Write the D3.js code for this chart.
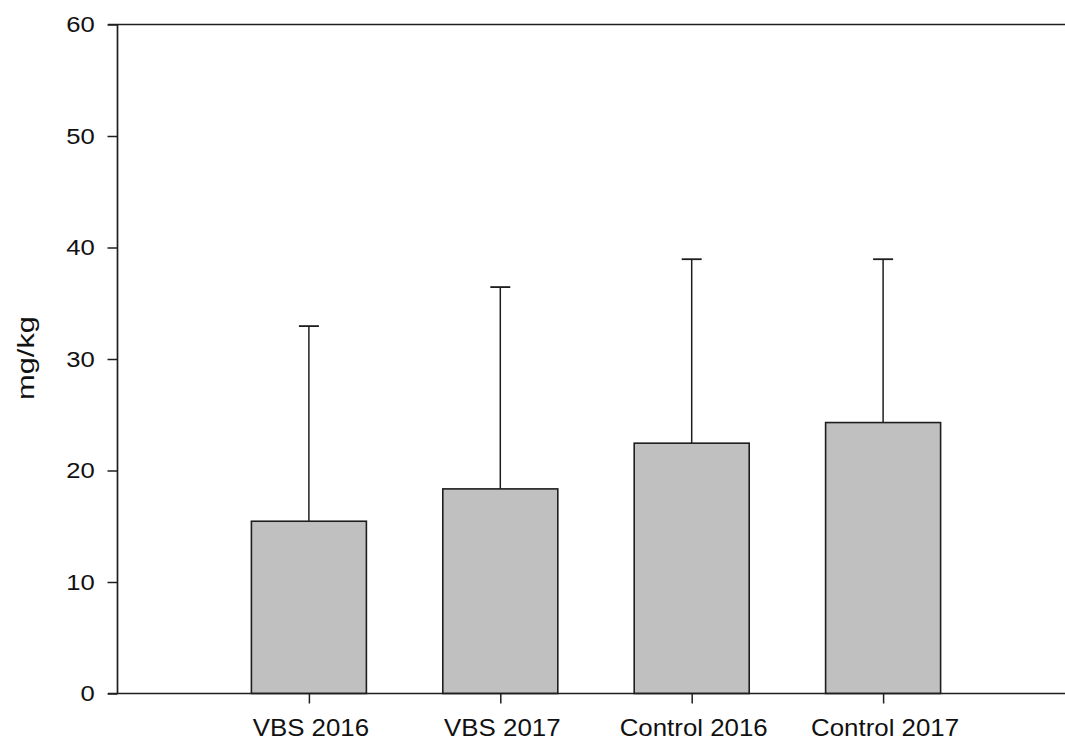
<!DOCTYPE html>
<html><head><meta charset="utf-8">
<script src="https://cdn.jsdelivr.net/npm/d3@7"></script>
<style>body{margin:0;background:#fff}svg{display:block}text{font-family:"Liberation Sans",Arial,sans-serif;fill:#111}</style>
</head><body><svg id="c" width="1065" height="742"></svg>
<script>
const categories = ["VBS 2016", "VBS 2017", "Control 2016", "Control 2017"];
const means = [15.45, 18.35, 22.45, 24.3];
const upperErr = [32.95, 36.45, 38.95, 38.95];
const yTicks = [0, 10, 20, 30, 40, 50, 60];

const svg = d3.select("#c");
const x0 = 117.5, ySc = d3.scaleLinear().domain([0, 60]).range([693.5, 24.5]);
const x = d3.scaleLinear().domain([0, 5]).range([x0, x0 + 5 * 191.4]);
const barW = 115, capW = 20, col = "#1e1e1e";

// top frame line
svg.append("line").attr("x1", 108).attr("x2", 1065).attr("y1", ySc(60)).attr("y2", ySc(60))
  .attr("stroke", col).attr("stroke-width", 1.7);

// bars with upper error bars
const g = svg.append("g");
categories.forEach((c, i) => {
  const cx = x(i + 1);
  g.append("line").attr("x1", cx).attr("x2", cx).attr("y1", ySc(means[i])).attr("y2", ySc(upperErr[i]))
    .attr("stroke", col).attr("stroke-width", 1.5);
  g.append("line").attr("x1", cx - capW / 2).attr("x2", cx + capW / 2).attr("y1", ySc(upperErr[i])).attr("y2", ySc(upperErr[i]))
    .attr("stroke", col).attr("stroke-width", 1.8);
  g.append("rect").attr("x", cx - barW / 2).attr("y", ySc(means[i])).attr("width", barW)
    .attr("height", ySc(0) - ySc(means[i])).attr("fill", "#c0c0c0").attr("stroke", col).attr("stroke-width", 1.6);
});

// y axis
const ya = svg.append("g").attr("transform", `translate(${x0},0)`)
  .call(d3.axisLeft(ySc).tickValues(yTicks).tickSize(10).tickPadding(10).tickFormat(d3.format("d")));
ya.select(".domain").attr("stroke", col).attr("stroke-width", 1.7).attr("d", `M0,${ySc(60)}V${ySc(0)}`);
ya.selectAll(".tick line").attr("stroke", col).attr("stroke-width", 1.5);
ya.selectAll(".tick text").attr("font-size", 22.5).attr("fill", "#111").attr("transform", "scale(1.14,1)");

// x axis
const xa = svg.append("g").attr("transform", `translate(0,${ySc(0)})`)
  .call(d3.axisBottom(x).tickValues([1, 2, 3, 4]).tickSize(10).tickPadding(16.5).tickFormat(d => categories[d - 1]));
xa.select(".domain").attr("stroke", col).attr("stroke-width", 1.7).attr("d", `M108,0H1065`);
xa.selectAll(".tick line").attr("stroke", col).attr("stroke-width", 1.5);
xa.selectAll(".tick text").attr("font-size", 23).attr("fill", "#111").attr("transform", "translate(1.5,0) scale(1.125,1)");

svg.append("text").attr("transform", "translate(34,358) rotate(-90) scale(1.34,1)").attr("text-anchor", "middle")
  .attr("font-size", 23).text("mg/kg");
</script></body></html>
